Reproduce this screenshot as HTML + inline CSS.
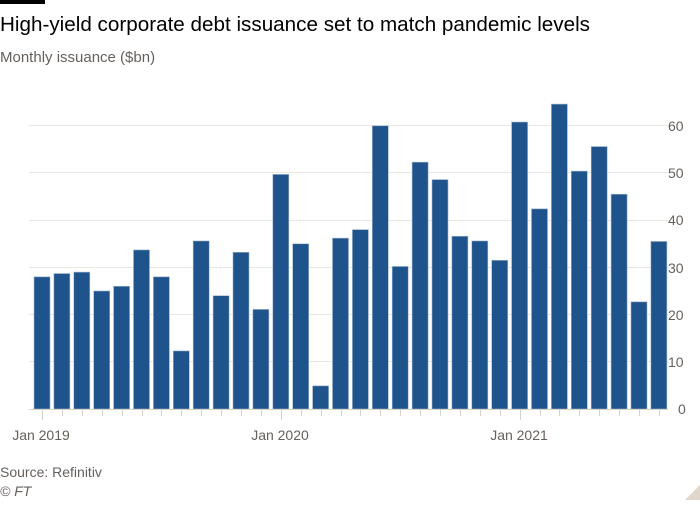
<!DOCTYPE html>
<html><head><meta charset="utf-8"><style>
body{margin:0;width:700px;height:500px;background:#fff;overflow:hidden;font-family:"Liberation Sans",sans-serif}
</style></head><body>
<svg width="700" height="500" xmlns="http://www.w3.org/2000/svg" font-family="Liberation Sans, sans-serif">
<rect x="0" y="0" width="45" height="4" fill="#000"/>
<text x="0" y="31" font-size="20.5" fill="#000" textLength="590" lengthAdjust="spacingAndGlyphs">High-yield corporate debt issuance set to match pandemic levels</text>
<text x="0" y="62" font-size="15" fill="#66605c">Monthly issuance ($bn)</text>
<g stroke="#ebe6e0" stroke-width="1">
<line x1="29" x2="668" y1="125.5" y2="125.5"/>
<line x1="29" x2="668" y1="172.5" y2="172.5"/>
<line x1="29" x2="668" y1="220.5" y2="220.5"/>
<line x1="29" x2="668" y1="267.5" y2="267.5"/>
<line x1="29" x2="668" y1="314.5" y2="314.5"/>
<line x1="29" x2="668" y1="361.5" y2="361.5"/>
</g>
<g font-size="14" fill="#66605c">
<text x="668" y="131">60</text>
<text x="668" y="178">50</text>
<text x="668" y="225">40</text>
<text x="668" y="273">30</text>
<text x="668" y="320">20</text>
<text x="668" y="367">10</text>
<text x="678" y="414">0</text>
</g>
<g id="bars" fill="#1f538c" stroke="#9db3cc" stroke-width="0.6"></g>
<line x1="29" x2="668" y1="409.5" y2="409.5" stroke="#d9d2ca"/>
<g id="ticks" stroke="#d9d2ca"></g>
<g font-size="14" fill="#66605c" text-anchor="middle">
<text x="41" y="440">Jan 2019</text>
<text x="280" y="440">Jan 2020</text>
<text x="519" y="440">Jan 2021</text>
</g>
<text x="0" y="477" font-size="14" fill="#66605c">Source: Refinitiv</text>
<text x="0" y="496" font-size="14" fill="#66605c" font-style="italic">© FT</text>
<polygon points="700,485 700,500 685,500" fill="#e0d6cc"/>
</svg>
<script>
var v=[28,28.7,29,25,26,33.7,28,12.3,35.6,24,33.2,21.1,49.7,35,4.9,36.2,38,60,30.2,52.3,48.6,36.6,35.6,31.5,60.8,42.4,64.6,50.4,55.6,45.5,22.7,35.5];
var ns="http://www.w3.org/2000/svg",b=document.getElementById("bars"),t=document.getElementById("ticks");
v.forEach(function(d,k){var h=d*4.72;var x0=34+19.9*k;var r=document.createElementNS(ns,"rect");r.setAttribute("x",x0);r.setAttribute("width",16);r.setAttribute("y",409-h);r.setAttribute("height",h);b.appendChild(r);
var l=document.createElementNS(ns,"line");var x=Math.round(x0+8)+0.5;l.setAttribute("x1",x);l.setAttribute("x2",x);l.setAttribute("y1",410);l.setAttribute("y2",k%12==0?420:416);t.appendChild(l);});
</script>
</body></html>
